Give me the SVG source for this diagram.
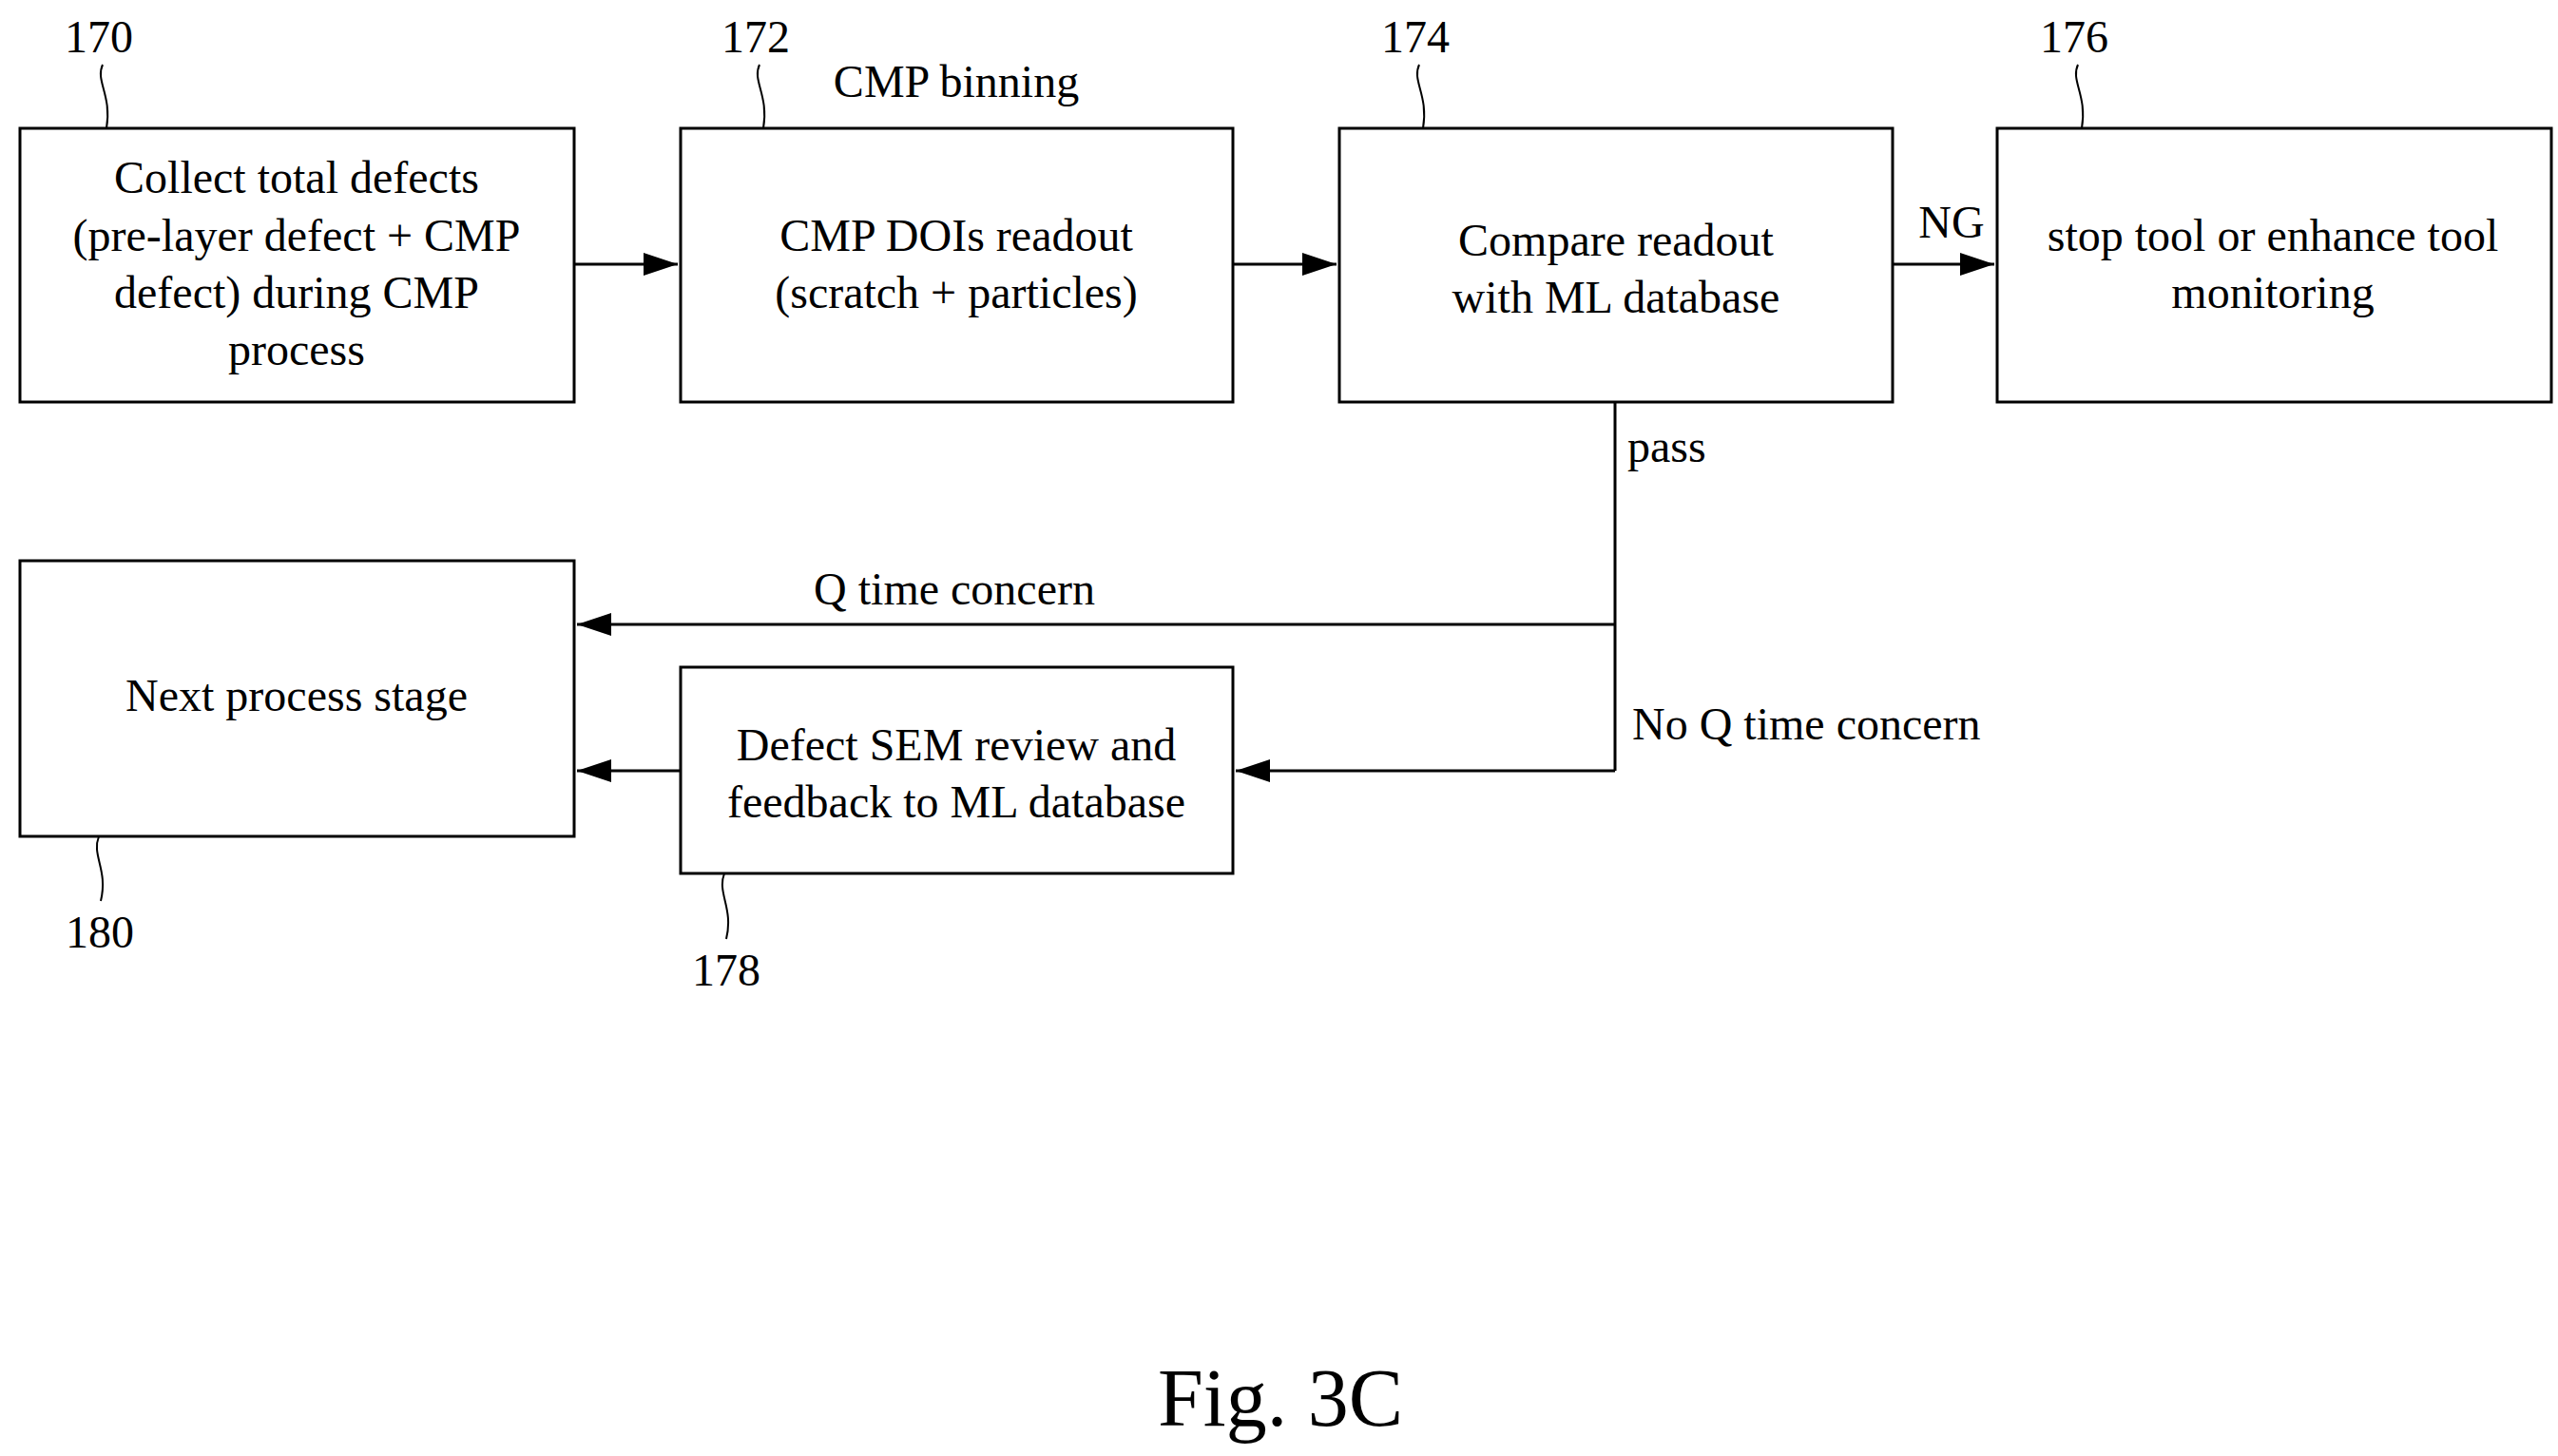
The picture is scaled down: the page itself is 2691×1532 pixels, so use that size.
<svg xmlns="http://www.w3.org/2000/svg" width="2691" height="1532" viewBox="0 0 2691 1532">
<style>
.b{fill:#fff;stroke:#000;stroke-width:3}
.t{font-family:"Liberation Serif",serif;font-size:48px;text-anchor:middle;dominant-baseline:central;fill:#000}
.l{font-family:"Liberation Serif",serif;font-size:48px;fill:#000;dominant-baseline:central}
.c{fill:none;stroke:#000;stroke-width:3}
.q{fill:none;stroke:#000;stroke-width:2}
</style>
<defs><marker id="a" markerWidth="12" markerHeight="8" refX="12" refY="4" orient="auto" markerUnits="strokeWidth" viewBox="0 0 12 8"><path d="M0,0L12,4L0,8z" fill="#000"/></marker></defs>
<rect width="2691" height="1532" fill="#fff"/>
<g id="n170"><rect class="b" x="21" y="135" width="583" height="288"/>
<text class="t" x="312" y="186">Collect total defects</text><text class="t" x="312" y="247">(pre-layer defect + CMP</text><text class="t" x="312" y="307">defect) during CMP</text><text class="t" x="312" y="367">process</text>
<text class="t" x="104" y="38">170</text><path class="q" d="M108,68 C100,85 118,100 112,135"/></g>
<g id="n172"><rect class="b" x="716" y="135" width="581" height="288"/>
<text class="t" x="1006" y="247">CMP DOIs readout</text><text class="t" x="1006" y="307">(scratch + particles)</text>
<text class="t" x="795" y="38">172</text><path class="q" d="M799,68 C791,85 809,100 803,135"/>
<text class="t" x="1006" y="85">CMP binning</text></g>
<g id="n174"><rect class="b" x="1409" y="135" width="582" height="288"/>
<text class="t" x="1700" y="252">Compare readout</text><text class="t" x="1700" y="312">with ML database</text>
<text class="t" x="1489" y="38">174</text><path class="q" d="M1493,68 C1485,85 1503,100 1497,135"/></g>
<g id="n176"><rect class="b" x="2101" y="135" width="583" height="288"/>
<text class="t" x="2391" y="247">stop tool or enhance tool</text><text class="t" x="2391" y="307">monitoring</text>
<text class="t" x="2182" y="38">176</text><path class="q" d="M2186,68 C2178,85 2196,100 2190,135"/></g>
<g id="n180"><rect class="b" x="21" y="590" width="583" height="290"/>
<text class="t" x="312" y="731">Next process stage</text>
<text class="t" x="105" y="980">180</text><path class="q" d="M104,880 C96,900 114,915 106,948"/></g>
<g id="n178"><rect class="b" x="716" y="702" width="581" height="217"/>
<text class="t" x="1006" y="783">Defect SEM review and</text><text class="t" x="1006" y="843">feedback to ML database</text>
<text class="t" x="764" y="1020">178</text><path class="q" d="M762,919 C754,940 772,955 764,988"/></g>
<g id="connectors">
<line class="c" x1="604" y1="278" x2="713" y2="278" marker-end="url(#a)"/>
<line class="c" x1="1297" y1="278" x2="1406" y2="278" marker-end="url(#a)"/>
<line class="c" x1="1991" y1="278" x2="2098" y2="278" marker-end="url(#a)"/>
<path class="c" d="M1699,423 V811"/>
<line class="c" x1="1699" y1="657" x2="607" y2="657" marker-end="url(#a)"/>
<line class="c" x1="1699" y1="811" x2="1300" y2="811" marker-end="url(#a)"/>
<line class="c" x1="716" y1="811" x2="607" y2="811" marker-end="url(#a)"/>
<text class="t" x="2053" y="233">NG</text>
<text class="l" x="1712" y="469">pass</text>
<text class="t" x="1004" y="619">Q time concern</text>
<text class="l" x="1717" y="761">No Q time concern</text>
</g>
<text class="t" x="1347" y="1471" style="font-size:86px">Fig. 3C</text>
</svg>
